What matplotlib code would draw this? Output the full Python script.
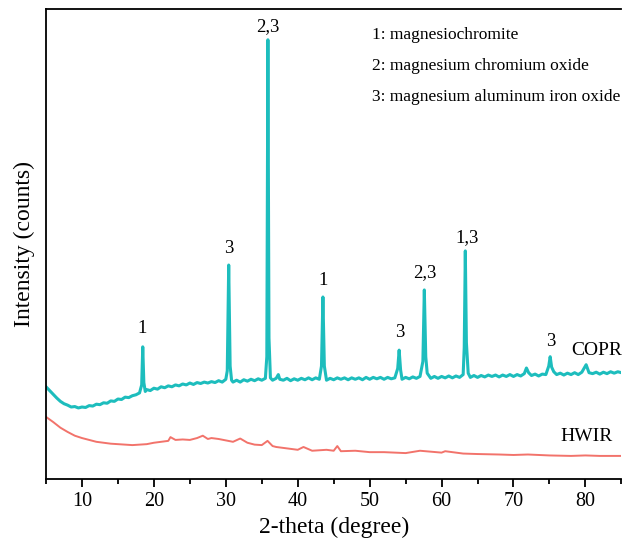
import numpy as np
import matplotlib.pyplot as plt
from matplotlib.ticker import MultipleLocator, NullLocator

plt.rcParams['font.family'] = ['Liberation Serif', 'DejaVu Serif']

# COPR pattern (2-theta, counts)
copr_theta = [5.0, 5.5, 6.0, 6.5, 7.0, 7.5, 8.0, 8.5, 9.0, 9.5,
              10.0, 10.5, 11.0, 11.5, 12.0, 12.5, 13.0, 13.5, 14.0, 14.5,
              15.0, 15.5, 16.0, 16.5, 17.0, 17.5, 18.0, 18.3, 18.45, 18.6,
              18.8, 19.0, 19.5, 20.0, 20.5, 21.0, 21.5, 22.0, 22.5, 23.0,
              23.5, 24.0, 24.5, 25.0, 25.5, 26.0, 26.5, 27.0, 27.5, 28.0,
              28.5, 29.0, 29.5, 30.0, 30.2, 30.4, 30.6, 30.8, 31.0, 31.5,
              32.0, 32.5, 33.0, 33.5, 34.0, 34.5, 35.0, 35.5, 35.7, 35.85,
              36.0, 36.2, 36.5, 37.0, 37.3, 37.5, 38.0, 38.5, 39.0, 39.5,
              40.0, 40.5, 41.0, 41.5, 42.0, 42.5, 43.0, 43.3, 43.5, 43.7,
              44.0, 44.5, 45.0, 45.5, 46.0, 46.5, 47.0, 47.5, 48.0, 48.5,
              49.0, 49.5, 50.0, 50.5, 51.0, 51.5, 52.0, 52.5, 53.0, 53.5,
              53.9, 54.1, 54.3, 54.5, 55.0, 55.5, 56.0, 56.5, 57.0, 57.4,
              57.6, 57.8, 58.0, 58.5, 59.0, 59.5, 60.0, 60.5, 61.0, 61.5,
              62.0, 62.5, 63.0, 63.15, 63.3, 63.45, 63.7, 64.0, 64.5, 65.0,
              65.5, 66.0, 66.5, 67.0, 67.5, 68.0, 68.5, 69.0, 69.5, 70.0,
              70.5, 71.0, 71.5, 71.8, 72.1, 72.5, 73.0, 73.5, 74.0, 74.5,
              74.9, 75.1, 75.3, 75.6, 76.0, 76.5, 77.0, 77.5, 78.0, 78.5,
              79.0, 79.5, 80.1, 80.5, 81.0, 81.5, 82.0, 82.5, 83.0, 83.5,
              84.0, 84.5, 85.0]
copr_counts = [196, 188, 180, 172, 165, 160, 157, 153, 154, 151,
               153, 152, 156, 155, 159, 158, 162, 161, 166, 165,
               170, 169, 174, 173, 177, 179, 183, 200, 281, 205,
               186, 190, 188, 193, 191, 196, 194, 198, 196, 200,
               198, 202, 200, 204, 201, 205, 203, 206, 204, 207,
               205, 209, 206, 212, 230, 455, 240, 210, 206, 210,
               206, 211, 208, 212, 209, 213, 210, 214, 260, 934,
               300, 215, 210, 214, 222, 212, 210, 214, 209, 213,
               210, 214, 211, 215, 211, 215, 212, 240, 387, 240,
               210, 214, 211, 215, 212, 215, 211, 215, 212, 215,
               211, 216, 212, 216, 213, 216, 212, 216, 213, 215,
               235, 274, 232, 212, 216, 213, 217, 214, 218, 250,
               402, 260, 225, 214, 218, 214, 218, 215, 219, 215,
               219, 216, 222, 280, 485, 290, 225, 216, 220, 216,
               220, 217, 221, 218, 221, 217, 221, 218, 222, 218,
               222, 219, 224, 236, 226, 220, 223, 219, 223, 222,
               240, 260, 238, 228, 222, 225, 221, 225, 222, 226,
               222, 227, 243, 226, 224, 227, 223, 227, 224, 228,
               225, 228, 226]

# HWIR pattern
hwir_theta = [5, 6, 7, 8, 9, 10, 11, 12, 13, 14, 15, 16, 17, 18, 19, 20,
              21, 22, 22.3, 23, 24, 25, 26, 26.8, 27.5, 28, 29, 30, 31, 32,
              33, 34, 35, 35.8, 36.5, 37, 38, 39, 40, 40.8, 42, 43, 44, 45,
              45.5, 46, 48, 50, 52, 55, 57, 60, 60.5, 63, 65, 68, 70, 72,
              75, 78, 80, 82, 85]
hwir_counts = [132, 121, 109, 100, 92, 87, 83, 79, 77, 75, 74, 73, 72, 73,
               74, 77, 79, 81, 89, 83, 84, 83, 87, 92, 85, 87, 85, 82, 79, 86,
               77, 73, 72, 81, 70, 68, 66, 64, 62, 68, 60, 61, 62, 60,
               70, 59, 60, 57, 57, 55, 60, 56, 59, 54, 53, 52, 51, 52,
               50, 49, 50, 49, 49]

# peak labels (2-theta, height, text)
peak_pos = [18.4, 30.4, 35.9, 43.5, 54.2, 57.6, 63.6, 75.2]
peak_lab_y = [321, 491, 962, 423, 311, 438, 513, 292]
peak_txt = ['1', '3', '2,3', '1', '3', '2,3', '1,3', '3']

phases = ['1: magnesiochromite',
          '2: magnesium chromium oxide',
          '3: magnesium aluminum iron oxide']

teal = '#1DBDBD'
salmon = '#F2736B'

fig = plt.figure(figsize=(6.22, 5.48), dpi=100)
ax = fig.add_axes([0.074, 0.126, 0.925, 0.858])

ax.plot(copr_theta, copr_counts, color=teal, linewidth=2.2)
ax.plot(hwir_theta, hwir_counts, color=salmon, linewidth=1.4)

for x, y, t in zip(peak_pos, peak_lab_y, peak_txt):
    ax.text(x, y, t, ha='center', va='center', fontsize=13.5)

ax.text(81.5, 274, 'COPR', ha='center', va='center', fontsize=14)
ax.text(80.1, 90, 'HWIR', ha='center', va='center', fontsize=14)

for i, s in enumerate(phases):
    ax.text(50.3, 945 - i * 66, s, ha='left', va='center', fontsize=12.5)

ax.set_xlim(5, 85)
ax.set_ylim(0, 1000)
ax.xaxis.set_major_locator(MultipleLocator(10))
ax.xaxis.set_minor_locator(MultipleLocator(5))
ax.yaxis.set_major_locator(NullLocator())
ax.tick_params(axis='x', which='major', direction='out', length=6, width=1.3, labelsize=14.5)
ax.tick_params(axis='x', which='minor', direction='out', length=3.5, width=1.3)
ax.spines['right'].set_visible(False)
for side in ['left', 'top', 'bottom']:
    ax.spines[side].set_linewidth(1.3)

ax.set_xlabel('2-theta (degree)', fontsize=17, labelpad=4)
ax.set_ylabel('Intensity (counts)', fontsize=17, labelpad=8)

fig.savefig('out.png', dpi=100)
